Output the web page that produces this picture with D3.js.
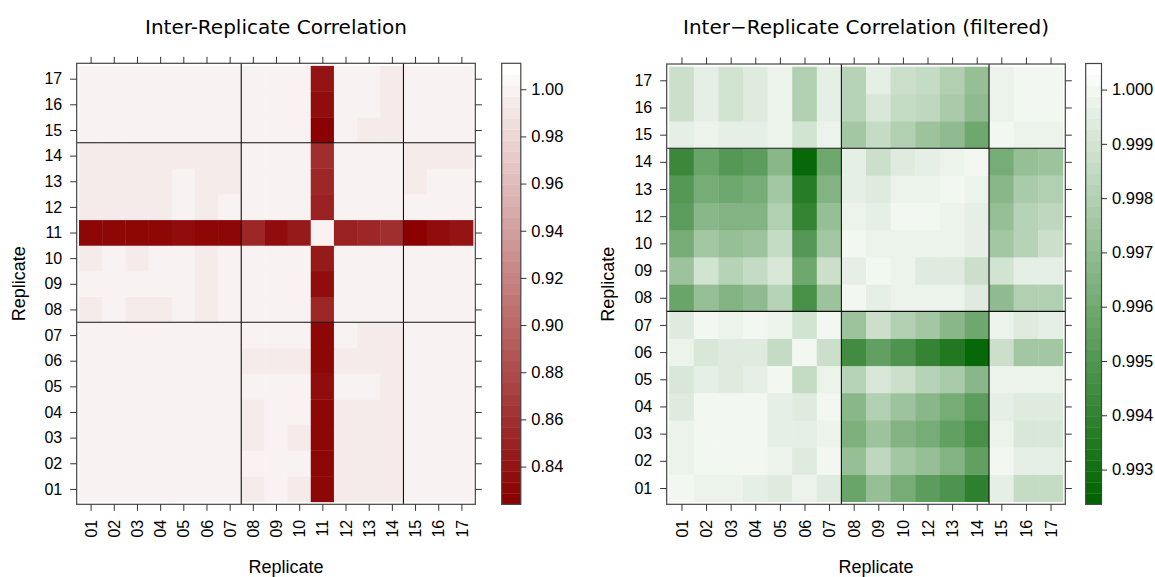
<!DOCTYPE html>
<html>
<head>
<meta charset="utf-8">
<script src="https://cdn.jsdelivr.net/npm/d3@7"></script>
<style>
  body { margin: 0; background: #fff; }
  svg { display: block; }
  .tick text { font-family: "Liberation Sans", Arial, sans-serif; fill: #000; }
  .tick line { stroke: #333; }
</style>
</head>
<body>
<div id="chart"></div>
<script>
// Replicate labels
const replicates = ["01", "02", "03", "04", "05", "06", "07", "08", "09",
                    "10", "11", "12", "13", "14", "15", "16", "17"];
const filteredReplicates = ["01", "02", "03", "04", "05", "06", "07", "08",
                            "09", "10", "12", "13", "14", "15", "16", "17"];

// Block boundaries (line drawn between these two labels)
const blockBreaks = [["07", "08"], ["14", "15"]];

// Correlation matrix, all replicates (row = y replicate, col = x replicate)
const corrAll = [
  /*01*/ [1.0000, 0.9991, 0.9989, 0.9987, 0.9985, 0.9988, 0.9984, 0.9952, 0.9983, 0.9956, 0.831, 0.9950, 0.9946, 0.9942, 0.9986, 0.9980, 0.9981],
  /*02*/ [0.9991, 1.0000, 0.9993, 0.9992, 0.9989, 0.9986, 0.9990, 0.9979, 0.9985, 0.9981, 0.831, 0.9960, 0.9956, 0.9951, 0.9990, 0.9987, 0.9986],
  /*03*/ [0.9989, 0.9993, 1.0000, 0.9994, 0.9988, 0.9987, 0.9991, 0.9958, 0.9980, 0.9961, 0.832, 0.9955, 0.9950, 0.9944, 0.9989, 0.9984, 0.9983],
  /*04*/ [0.9987, 0.9992, 0.9994, 1.0000, 0.9990, 0.9988, 0.9992, 0.9960, 0.9983, 0.9979, 0.831, 0.9957, 0.9952, 0.9947, 0.9988, 0.9985, 0.9984],
  /*05*/ [0.9985, 0.9989, 0.9988, 0.9990, 1.0000, 0.9984, 0.9991, 0.9981, 0.9988, 0.9985, 0.838, 0.9982, 0.9978, 0.9961, 0.9991, 0.9990, 0.9990],
  /*06*/ [0.9988, 0.9986, 0.9987, 0.9988, 0.9984, 1.0000, 0.9985, 0.9951, 0.9957, 0.9953, 0.832, 0.9946, 0.9942, 0.9935, 0.9984, 0.9979, 0.9979],
  /*07*/ [0.9984, 0.9990, 0.9991, 0.9992, 0.9991, 0.9985, 1.0000, 0.9978, 0.9986, 0.9981, 0.833, 0.9978, 0.9961, 0.9955, 0.9990, 0.9987, 0.9987],
  /*08*/ [0.9952, 0.9979, 0.9958, 0.9960, 0.9981, 0.9951, 0.9978, 1.0000, 0.9990, 0.9992, 0.856, 0.9991, 0.9990, 0.9988, 0.9978, 0.9982, 0.9983],
  /*09*/ [0.9983, 0.9985, 0.9980, 0.9983, 0.9988, 0.9957, 0.9986, 0.9990, 1.0000, 0.9993, 0.836, 0.9990, 0.9989, 0.9985, 0.9985, 0.9988, 0.9989],
  /*10*/ [0.9956, 0.9981, 0.9961, 0.9979, 0.9985, 0.9953, 0.9981, 0.9992, 0.9993, 1.0000, 0.847, 0.9993, 0.9992, 0.9990, 0.9980, 0.9984, 0.9985],
  /*11*/ [0.831, 0.831, 0.832, 0.831, 0.838, 0.832, 0.833, 0.856, 0.836, 0.847, 1.0000, 0.848, 0.853, 0.859, 0.827, 0.836, 0.841],
  /*12*/ [0.9950, 0.9960, 0.9955, 0.9957, 0.9982, 0.9946, 0.9978, 0.9991, 0.9990, 0.9993, 0.848, 1.0000, 0.9994, 0.9991, 0.9979, 0.9983, 0.9984],
  /*13*/ [0.9946, 0.9956, 0.9950, 0.9952, 0.9978, 0.9942, 0.9961, 0.9990, 0.9989, 0.9992, 0.853, 0.9994, 1.0000, 0.9993, 0.9962, 0.9979, 0.9980],
  /*14*/ [0.9942, 0.9951, 0.9944, 0.9947, 0.9961, 0.9935, 0.9955, 0.9988, 0.9985, 0.9990, 0.859, 0.9991, 0.9993, 1.0000, 0.9955, 0.9962, 0.9964],
  /*15*/ [0.9986, 0.9990, 0.9989, 0.9988, 0.9991, 0.9984, 0.9990, 0.9978, 0.9985, 0.9980, 0.827, 0.9979, 0.9962, 0.9955, 1.0000, 0.9992, 0.9991],
  /*16*/ [0.9980, 0.9987, 0.9984, 0.9985, 0.9990, 0.9979, 0.9987, 0.9982, 0.9988, 0.9984, 0.836, 0.9983, 0.9979, 0.9962, 0.9992, 1.0000, 0.9995],
  /*17*/ [0.9981, 0.9986, 0.9983, 0.9984, 0.9990, 0.9979, 0.9987, 0.9983, 0.9989, 0.9985, 0.841, 0.9984, 0.9980, 0.9964, 0.9991, 0.9995, 1.0000]
];

// Correlation matrix, replicate 11 removed
const corrFiltered = [
  /*01*/ [0.9999, 0.9997, 0.9997, 0.9995, 0.9993, 0.9998, 0.9993, 0.9957, 0.9971, 0.9962, 0.9954, 0.9948, 0.9938, 0.9995, 0.9986, 0.9986],
  /*02*/ [0.9998, 0.9999, 0.9999, 0.9999, 0.9998, 0.9994, 0.9999, 0.9971, 0.9984, 0.9976, 0.9971, 0.9965, 0.9955, 0.9999, 0.9996, 0.9996],
  /*03*/ [0.9998, 0.9999, 0.9999, 0.9999, 0.9995, 0.9996, 0.9998, 0.9964, 0.9974, 0.9966, 0.9962, 0.9955, 0.9946, 0.9998, 0.9992, 0.9992],
  /*04*/ [0.9994, 0.9999, 0.9999, 0.9999, 0.9995, 0.9994, 0.9999, 0.9968, 0.9980, 0.9973, 0.9968, 0.9962, 0.9954, 0.9996, 0.9994, 0.9994],
  /*05*/ [0.9992, 0.9996, 0.9994, 0.9995, 0.9999, 0.9986, 0.9997, 0.9982, 0.9991, 0.9987, 0.9982, 0.9978, 0.9968, 0.9998, 0.9998, 0.9998],
  /*06*/ [0.9998, 0.9992, 0.9994, 0.9993, 0.9986, 0.9999, 0.9987, 0.9944, 0.9955, 0.9948, 0.9940, 0.9935, 0.9927, 0.9987, 0.9976, 0.9976],
  /*07*/ [0.9993, 0.9999, 0.9997, 0.9999, 0.9998, 0.9990, 0.9999, 0.9974, 0.9987, 0.9980, 0.9976, 0.9968, 0.9959, 0.9998, 0.9994, 0.9995],
  /*08*/ [0.9957, 0.9971, 0.9965, 0.9969, 0.9982, 0.9946, 0.9973, 0.9999, 0.9996, 0.9998, 0.9997, 0.9997, 0.9994, 0.9969, 0.9979, 0.9980],
  /*09*/ [0.9973, 0.9989, 0.9982, 0.9986, 0.9992, 0.9960, 0.9987, 0.9995, 0.9999, 0.9997, 0.9994, 0.9993, 0.9987, 0.9990, 0.9995, 0.9996],
  /*10*/ [0.9962, 0.9976, 0.9971, 0.9974, 0.9986, 0.9952, 0.9976, 0.9999, 0.9997, 0.9998, 0.9998, 0.9998, 0.9996, 0.9976, 0.9982, 0.9987],
  /*12*/ [0.9954, 0.9968, 0.9965, 0.9966, 0.9980, 0.9941, 0.9971, 0.9997, 0.9995, 0.9999, 0.9999, 0.9998, 0.9996, 0.9971, 0.9982, 0.9984],
  /*13*/ [0.9950, 0.9962, 0.9959, 0.9962, 0.9976, 0.9936, 0.9966, 0.9996, 0.9993, 0.9997, 0.9998, 0.9999, 0.9998, 0.9968, 0.9978, 0.9979],
  /*14*/ [0.9943, 0.9957, 0.9950, 0.9954, 0.9968, 0.9927, 0.9959, 0.9995, 0.9987, 0.9994, 0.9995, 0.9997, 0.9999, 0.9962, 0.9971, 0.9974],
  /*15*/ [0.9995, 0.9998, 0.9996, 0.9996, 0.9997, 0.9990, 0.9998, 0.9976, 0.9986, 0.9979, 0.9974, 0.9969, 0.9960, 1.0000, 0.9998, 0.9997],
  /*16*/ [0.9987, 0.9995, 0.9989, 0.9993, 0.9997, 0.9979, 0.9995, 0.9982, 0.9992, 0.9986, 0.9984, 0.9978, 0.9969, 0.9998, 1.0000, 0.9999],
  /*17*/ [0.9987, 0.9996, 0.9989, 0.9994, 0.9997, 0.9979, 0.9995, 0.9982, 0.9995, 0.9987, 0.9986, 0.9980, 0.9971, 0.9998, 0.9999, 0.9999]
];

// Color key ranges and ticks
const keyRangeAll = [0.824, 1.011];
const keyTicksAll = [0.84, 0.86, 0.88, 0.90, 0.92, 0.94, 0.96, 0.98, 1.00];
const keyRangeFiltered = [0.99236, 1.00048];
const keyTicksFiltered = [0.993, 0.994, 0.995, 0.996, 0.997, 0.998, 0.999, 1.000];

const W = 1155, H = 577;
const nBands = 40;

const svg = d3.select('#chart').append('svg')
    .attr('width', W)
    .attr('height', H);

function drawHeatmap(cfg) {
    const n = cfg.labels.length;
    const p = cfg.panel;

    const x = d3.scaleLinear().domain([0.4, n + 0.6]).range([p.x0, p.x1]);
    const y = d3.scaleLinear().domain([0.4, n + 0.6]).range([p.y1, p.y0]);

    // banded color ramp, like lattice levelplot
    const [lo, hi] = cfg.keyRange;
    const breaks = d3.range(nBands + 1).map(i => lo + (hi - lo) * i / nBands);
    const ramp = d3.interpolateRgb(cfg.lowColor, '#ffffff');
    const bandColors = d3.range(nBands).map(i => ramp(i / (nBands - 1)));
    const color = d3.scaleThreshold().domain(breaks.slice(1, -1)).range(bandColors);

    const cells = [];
    cfg.matrix.forEach((row, ri) => {
        row.forEach((v, ci) => cells.push({ r: ri + 1, c: ci + 1, v: v }));
    });

    const g = svg.append('g');

    g.append('g').selectAll('rect')
        .data(cells)
        .join('rect')
        .attr('x', d => x(d.c - 0.5))
        .attr('y', d => y(d.r + 0.5))
        .attr('width', x(1.5) - x(0.5) + 0.4)
        .attr('height', y(0.5) - y(1.5) + 0.4)
        .attr('fill', d => color(d.v));

    // block separators
    const idx = lab => cfg.labels.indexOf(lab) + 1;
    blockBreaks.forEach(([a, b]) => {
        const pos = (idx(a) + idx(b)) / 2;
        g.append('line')
            .attr('x1', x(pos)).attr('x2', x(pos))
            .attr('y1', p.y0).attr('y2', p.y1)
            .attr('stroke', '#111').attr('stroke-width', 1.1);
        g.append('line')
            .attr('x1', p.x0).attr('x2', p.x1)
            .attr('y1', y(pos)).attr('y2', y(pos))
            .attr('stroke', '#111').attr('stroke-width', 1.1);
    });

    // panel frame
    g.append('rect')
        .attr('x', p.x0).attr('y', p.y0)
        .attr('width', p.x1 - p.x0).attr('height', p.y1 - p.y0)
        .attr('fill', 'none').attr('stroke', '#444').attr('stroke-width', 1.2);

    const ticks = d3.range(1, n + 1);
    const tickLen = 6.5;

    const xb = g.append('g')
        .attr('transform', `translate(0,${p.y1})`)
        .call(d3.axisBottom(x).tickValues(ticks).tickFormat(i => cfg.labels[i - 1])
            .tickSize(tickLen).tickSizeOuter(0));
    xb.selectAll('text')
        .attr('transform', 'rotate(-90)')
        .attr('text-anchor', 'end')
        .attr('x', -(tickLen + 9))
        .attr('y', 0)
        .attr('dy', '0.35em')
        .style('font-size', '16px');

    g.append('g')
        .attr('transform', `translate(0,${p.y0})`)
        .call(d3.axisTop(x).tickValues(ticks).tickFormat('').tickSize(tickLen).tickSizeOuter(0));

    g.append('g')
        .attr('transform', `translate(${p.x0},0)`)
        .call(d3.axisLeft(y).tickValues(ticks).tickFormat(i => cfg.labels[i - 1])
            .tickSize(tickLen).tickPadding(8).tickSizeOuter(0))
        .selectAll('text').style('font-size', '16px');

    g.append('g')
        .attr('transform', `translate(${p.x1},0)`)
        .call(d3.axisRight(y).tickValues(ticks).tickFormat('').tickSize(tickLen).tickSizeOuter(0));

    g.selectAll('.domain').remove();
    g.selectAll('.tick line').attr('stroke', '#444');

    // color key
    const k = cfg.key;
    const ky = d3.scaleLinear().domain(cfg.keyRange).range([k.y1, k.y0]);
    g.append('g').selectAll('rect')
        .data(d3.range(nBands))
        .join('rect')
        .attr('x', k.x0)
        .attr('y', i => ky(breaks[i + 1]))
        .attr('width', k.x1 - k.x0)
        .attr('height', i => ky(breaks[i]) - ky(breaks[i + 1]) + 0.3)
        .attr('fill', i => bandColors[i]);
    g.append('rect')
        .attr('x', k.x0).attr('y', k.y0)
        .attr('width', k.x1 - k.x0).attr('height', k.y1 - k.y0)
        .attr('fill', 'none').attr('stroke', '#444').attr('stroke-width', 1.2);
    const ka = g.append('g')
        .attr('transform', `translate(${k.x1},0)`)
        .call(d3.axisRight(ky).tickValues(cfg.keyTicks).tickFormat(d3.format(cfg.keyFormat))
            .tickSize(5.5).tickPadding(5).tickSizeOuter(0));
    ka.select('.domain').remove();
    ka.selectAll('.tick line').attr('stroke', '#444');
    ka.selectAll('text').style('font-size', '16.5px');

    // title
    g.append('text')
        .attr('x', (p.x0 + p.x1) / 2)
        .attr('y', 34)
        .attr('text-anchor', 'middle')
        .style('font-family', '"DejaVu Sans", sans-serif')
        .style('font-size', '20px')
        .text(cfg.title);

    // axis titles
    g.append('text')
        .attr('x', (p.x0 + p.x1) / 2 + 10)
        .attr('y', 573)
        .attr('text-anchor', 'middle')
        .style('font-family', '"Liberation Sans", Arial, sans-serif')
        .style('font-size', '18px')
        .text('Replicate');
    g.append('text')
        .attr('transform', `translate(${cfg.ylabX},${(p.y0 + p.y1) / 2}) rotate(-90)`)
        .attr('text-anchor', 'middle')
        .style('font-family', '"Liberation Sans", Arial, sans-serif')
        .style('font-size', '18px')
        .text('Replicate');
}

drawHeatmap({
    labels: replicates,
    matrix: corrAll,
    keyRange: keyRangeAll,
    keyTicks: keyTicksAll,
    keyFormat: '.2f',
    lowColor: '#8b0000',
    title: 'Inter-Replicate Correlation',
    panel: { x0: 76.7, x1: 475.3, y0: 63.3, y1: 504.3 },
    key: { x0: 501.7, x1: 520.8, y0: 63.3, y1: 504.3 },
    ylabX: 25
});

drawHeatmap({
    labels: filteredReplicates,
    matrix: corrFiltered,
    keyRange: keyRangeFiltered,
    keyTicks: keyTicksFiltered,
    keyFormat: '.3f',
    lowColor: '#006400',
    title: 'Inter\u2212Replicate Correlation (filtered)',
    panel: { x0: 666.7, x1: 1065.3, y0: 64, y1: 504.3 },
    key: { x0: 1085.7, x1: 1101.5, y0: 63.5, y1: 504.3 },
    ylabX: 614
});
</script>
</body>
</html>
